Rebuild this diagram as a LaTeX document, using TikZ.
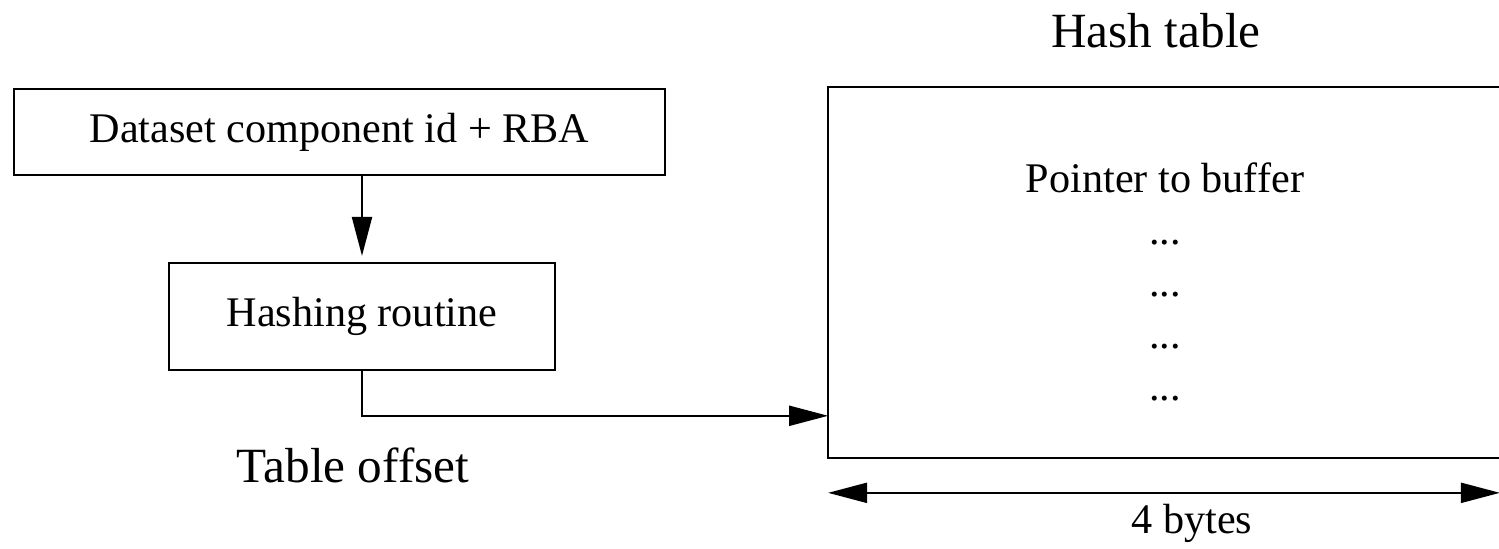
\documentclass[tikz,border=0pt]{standalone}
\usepackage{fontspec}
\setmainfont{Liberation Serif}
\usetikzlibrary{arrows.meta,positioning}

\begin{document}
\begin{tikzpicture}[
    x=0.01cm, y=-0.01cm,
    box/.style={draw, line width=0.6pt, inner sep=0pt, font=\fontsize{12}{14}\selectfont},
    arrow/.style={-{Triangle[length=0.39cm, width=0.2cm]}, line width=0.6pt},
    span/.style={{Triangle[length=0.39cm, width=0.2cm]}-{Triangle[length=0.39cm, width=0.2cm]}, line width=0.6pt},
    caption/.style={font=\fontsize{14}{17}\selectfont, anchor=base},
    entry/.style={font=\fontsize{12}{14}\selectfont, anchor=base}
  ]
    \useasboundingbox (0,0) rectangle (1499,548);
    \node[box, minimum width=6.51cm, minimum height=0.86cm] (key) at (339.5,132) {Dataset component id + RBA};
    \node[box, minimum width=3.85cm, minimum height=1.07cm] (hash) at (362,316.5) {Hashing routine};
    \node[minimum width=6.70cm, minimum height=3.69cm, inner sep=0pt] (table) at (1164,272.5) {};
    % open on the right: the table runs on past the edge
    \draw[line width=0.6pt] (table.north east) -- (table.north west) -- (table.south west) -- (table.south east);
    \node[caption] (tname) at (1156,47) {Hash table};
    \node[entry] (ptr) at (1165,192) {Pointer to buffer};
    \foreach \y [count=\i] in {244,296,348,400}
      \node[entry] (dots\i) at (1165,\y) {...};
    \node[caption] (offset) at (353,482) {Table offset};
    \node[entry] (bytes) at (1192,533) {4 bytes};

    \coordinate (slot) at ([yshift=0.42cm]table.south west);
    \coordinate (wl) at ([yshift=-0.35cm]table.south west);
    \coordinate (wr) at ([yshift=-0.35cm]table.south east);
    \draw[arrow, shorten >=1.7pt] (hash.north |- key.south) -- (hash.north);
    \draw[arrow] (hash.south) |- (slot);
    \draw[span] (wl) -- (wr);
  \end{tikzpicture}
\end{document}
